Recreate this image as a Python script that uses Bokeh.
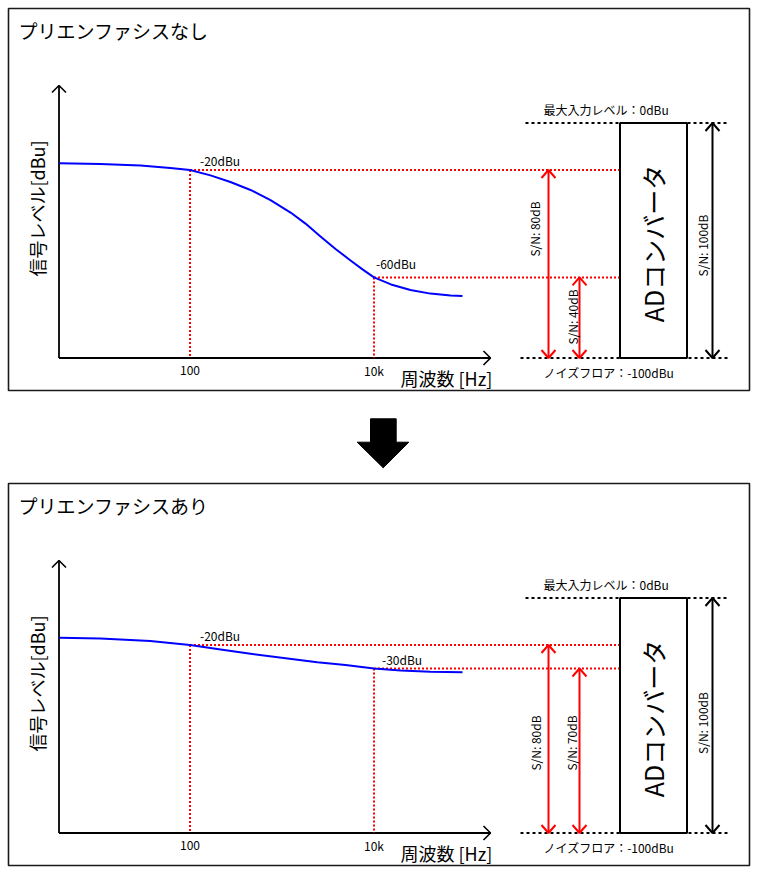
import numpy as np
from bokeh.plotting import figure
from bokeh.models import Range1d
from bokeh.core.properties import value
from bokeh.embed import file_html
from bokeh.resources import INLINE

W, H = 757, 874
FONT = "Noto Sans CJK JP"

# ---------------- data ----------------
titles = ["プリエンファシスなし", "プリエンファシスあり"]
freq_top = [3.8, 10.6, 29, 61, 100, 167, 275, 455, 750, 1240, 1800, 2620, 3820, 5560, 7500,
            10000, 15300, 24900, 41100, 67900, 91600]
level_top = [-17.1, -17.4, -18.1, -19.1, -20.0, -22.3, -25.1, -28.5, -32.8, -38.1, -42.8, -48.3,
             -53.6, -58.5, -62.3, -65.7, -68.7, -71.1, -72.6, -73.4, -73.6]
freq_bot = [3.8, 10.6, 37, 100, 215, 455, 1040, 2420, 4900, 10000, 19500, 41100, 91600]
level_bot = [-16.9, -17.2, -18.3, -20.0, -21.9, -23.7, -25.5, -27.3, -28.5, -30.0, -30.9, -31.4, -31.6]
mark_freq = [100, 10000]
mark_level_top = [-20, -65.7]          # drawn position of the marks
mark_label_top = ["-20dBu", "-60dBu"]
mark_sn_top = [80, 40]
mark_level_bot = [-20, -30]
mark_label_bot = ["-20dBu", "-30dBu"]
mark_sn_bot = [80, 70]
tick_freq = [100, 10000]
tick_labels = ["100", "10k"]
adc_max_db = 0
adc_floor_db = -100
adc_sn = 100
x_title = "周波数 [Hz]"
y_title = "信号レベル[dBu]"
adc_title = "ADコンバータ"
max_label = "最大入力レベル：0dBu"
floor_label = "ノイズフロア：-100dBu"

# ---------------- geometry ----------------
PX_PER_DEC = 92.0
X100 = 189.5
PX_PER_DB = 2.35
ZERO_PX = 122.5
DY = [0, 475]


def lf_at(px):
    return 2 + (px - X100) / PX_PER_DEC


p = figure(width=W, height=H, x_range=Range1d(0, W), y_range=Range1d(H, 0),
           output_backend="svg", toolbar_location=None, min_border=0,
           x_axis_location=None, y_axis_location=None)
p.outline_line_color = None
p.grid.grid_line_color = None
p.background_fill_color = "white"
p.border_fill_color = "white"
p.extra_x_ranges = {"f": Range1d(lf_at(0), lf_at(W))}
yr_names = ["top", "bot"]
for name, dy in zip(yr_names, DY):
    z = ZERO_PX + dy
    p.extra_y_ranges[name] = Range1d(-(H - z) / PX_PER_DB, z / PX_PER_DB)


def txt(x, y, s, size, align="left", angle=0.0, xr="default", yr="default"):
    p.text(x=x, y=y, text=s, text_font=value(FONT), text_font_size=f"{size}px",
           text_align=align, text_baseline="middle", angle=angle, text_color="#000000",
           x_range_name=xr, y_range_name=yr)


def vheads(x, y_tip, up, yr, color, lw):
    ln = 8 / PX_PER_DB
    base = y_tip - ln if up else y_tip + ln
    p.multi_line(xs=[[x - 7, x, x + 7]], ys=[[base, y_tip, base]], line_color=color,
                 line_width=lw, y_range_name=yr)


panels = [
    dict(freq=freq_top, level=level_top, mlevel=mark_level_top, mlabel=mark_label_top,
         msn=mark_sn_top, lab_off=[(10, 9.5), (2, 14)],
         sn_pos=[(534, 228.5), (571.5, 316.5)], sn100_pos=(702, 245)),
    dict(freq=freq_bot, level=level_bot, mlevel=mark_level_bot, mlabel=mark_label_bot,
         msn=mark_sn_bot, lab_off=[(10, 10), (8, 9)],
         sn_pos=[(534.5, 267.5), (570.5, 267.5)], sn100_pos=(702, 247.5)),
]

ADC_L, ADC_R = 619.5, 686.5
SN_X = [548, 579]
SN100_X = 712

for k, (pan, dy, yr) in enumerate(zip(panels, DY, yr_names)):
    # frame and title
    p.quad(left=[8], right=[749], top=[8 + dy], bottom=[390 + dy], fill_color=None,
           line_color="#1a1a1a", line_width=1.6)
    txt([18], [30 + dy], [titles[k]], 19)

    # axes with open arrow heads
    p.line(x=[58.5, 58.5], y=[357.5 + dy, 85 + dy], line_color="black", line_width=1.8)
    p.line(x=[58.5, 490], y=[357.5 + dy, 357.5 + dy], line_color="black", line_width=1.8)
    p.multi_line(xs=[[51.5, 58.5, 65.5], [483, 490, 483]],
                 ys=[[92 + dy, 85 + dy, 92 + dy], [350.5 + dy, 357.5 + dy, 364.5 + dy]],
                 line_color="black", line_width=1.6)
    txt([36], [208 + dy], [y_title], 18, align="center", angle=np.pi / 2)
    txt([400], [377 + dy], [x_title], 18)

    # tick labels
    txt(list(np.log10(tick_freq)), [adc_floor_db - 12.5 / PX_PER_DB] * len(tick_freq),
        tick_labels, 12, align="center", xr="f", yr=yr)

    # red dotted guide lines
    mlf = np.log10(mark_freq)
    p.segment(x0=mlf, y0=pan["mlevel"], x1=mlf, y1=[adc_floor_db] * 2, line_color="#ff0000",
              line_width=2, line_dash="2 2", x_range_name="f", y_range_name=yr)
    p.segment(x0=mlf, y0=pan["mlevel"], x1=[lf_at(ADC_L)] * 2, y1=pan["mlevel"],
              line_color="#ff0000", line_width=2, line_dash="2 2",
              x_range_name="f", y_range_name=yr)

    # curve
    p.line(x=np.log10(pan["freq"]), y=pan["level"], line_color="#0000ff", line_width=2,
           line_join="round", x_range_name="f", y_range_name=yr)

    # mark labels
    lx = [lf + o[0] / PX_PER_DEC for lf, o in zip(mlf, pan["lab_off"])]
    ly = [lv + o[1] / PX_PER_DB for lv, o in zip(pan["mlevel"], pan["lab_off"])]
    txt(lx, ly, pan["mlabel"], 12, xr="f", yr=yr)

    # ADC box and level lines
    p.quad(left=[ADC_L], right=[ADC_R], top=[adc_max_db], bottom=[adc_floor_db], fill_color=None,
           line_color="black", line_width=2, y_range_name=yr)
    p.segment(x0=[525, 520], y0=[adc_max_db, adc_floor_db], x1=[727, 727],
              y1=[adc_max_db, adc_floor_db], line_color="black", line_width=2,
              line_dash="3 3", y_range_name=yr)
    txt([652], [-(243 - ZERO_PX) / PX_PER_DB], [adc_title], 25, align="center",
        angle=np.pi / 2, yr=yr)
    txt([543], [adc_max_db + 13.5 / PX_PER_DB], [max_label], 12, yr=yr)
    txt([543], [adc_floor_db - 14.2 / PX_PER_DB], [floor_label], 12, yr=yr)

    # S/N arrows
    for x, lv, sn, pos in zip(SN_X, pan["mlevel"], pan["msn"], pan["sn_pos"]):
        p.line(x=[x, x], y=[lv, adc_floor_db], line_color="#ff0000", line_width=2,
               y_range_name=yr)
        vheads(x, lv, True, yr, "#ff0000", 2)
        vheads(x, adc_floor_db, False, yr, "#ff0000", 2)
        txt([pos[0]], [pos[1] + dy], [f"S/N: {sn}dB"], 12, align="center", angle=np.pi / 2)
    p.line(x=[SN100_X, SN100_X], y=[adc_max_db, adc_floor_db], line_color="black",
           line_width=2, y_range_name=yr)
    vheads(SN100_X, adc_max_db, True, yr, "black", 2)
    vheads(SN100_X, adc_floor_db, False, yr, "black", 2)
    txt([pan["sn100_pos"][0]], [pan["sn100_pos"][1] + dy], [f"S/N: {adc_sn}dB"], 12,
        align="center", angle=np.pi / 2)

# big down arrow between the panels
p.patch(x=[370, 395.7, 395.7, 408.3, 382.7, 356.7, 370, 370],
        y=[418.3, 418.3, 441.7, 441.7, 467.3, 441.7, 441.7, 418.3],
        fill_color="black", line_color="black", line_width=1)

open("out.html", "w").write(file_html(p, INLINE))
